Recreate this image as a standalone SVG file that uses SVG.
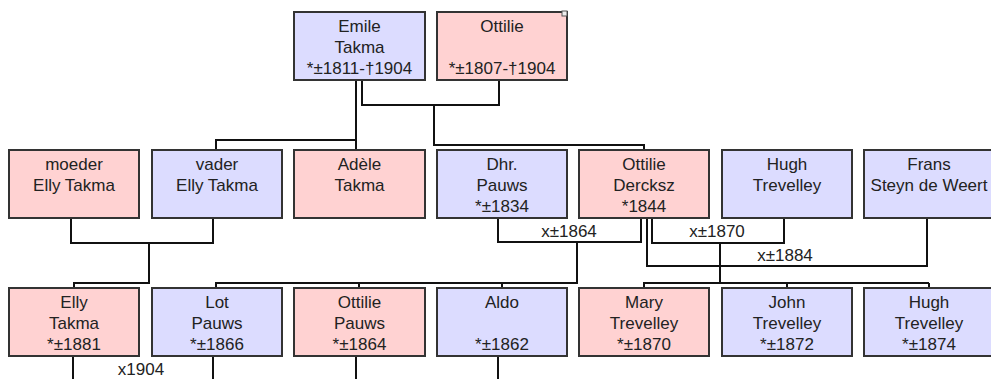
<svg xmlns="http://www.w3.org/2000/svg" width="991" height="379" viewBox="0 0 991 379">
<style>
.m{fill:#DCDCFF;stroke:#333;stroke-width:2}
.f{fill:#FFD2D2;stroke:#333;stroke-width:2}
text{font-family:"Liberation Sans",Arial,sans-serif;font-size:17px;fill:#222;text-anchor:middle}
.c path{fill:none;stroke:#111;stroke-width:2}
</style>
<rect width="991" height="379" fill="#fff"/>
<g class="c" id="connectors">
<path d="M356 80V140M216 150V140H356V150"/>
<path d="M362 80V105H499V80M434 105V145H644V150"/>
<path d="M71 218V243H213V218M149 243V283H74V288"/>
<path d="M498 218V242H641V218M577 242V283H216V288M359 283V288M502 283V288"/>
<path d="M652 218V243H784V218M720 243V283H644V288M929 283V288M787 283V288M644 283H929"/>
<path d="M647 218V266H927V218"/>
<path d="M73 356V379M213 356V379M356 356V379M498 356V379"/>
</g>
<g id="labels">
<text x="569" y="237">x±1864</text>
<text x="717" y="237">x±1870</text>
<text x="785" y="261">x±1884</text>
<text x="141" y="375">x1904</text>
</g>
<g id="emile"><rect class="m" x="294" y="12" width="131" height="68"/><text x="359.5" y="32">Emile</text><text x="359.5" y="53">Takma</text><text x="359.5" y="74">*±1811-†1904</text></g>
<g id="ottilie"><rect class="f" x="437" y="12" width="130" height="68"/><text x="502" y="32">Ottilie</text><text x="502" y="74">*±1807-†1904</text><rect x="562" y="11" width="5" height="5" fill="#eee" stroke="#555" stroke-width="1"/></g>
<g id="moeder"><rect class="f" x="9" y="150" width="130" height="68"/><text x="74" y="170">moeder</text><text x="74" y="191">Elly Takma</text></g>
<g id="vader"><rect class="m" x="152" y="150" width="130" height="68"/><text x="217" y="170">vader</text><text x="217" y="191">Elly Takma</text></g>
<g id="adele"><rect class="f" x="294" y="150" width="131" height="68"/><text x="359.5" y="170">Adèle</text><text x="359.5" y="191">Takma</text></g>
<g id="dhr"><rect class="m" x="437" y="150" width="130" height="68"/><text x="502" y="170">Dhr.</text><text x="502" y="191">Pauws</text><text x="502" y="212">*±1834</text></g>
<g id="ottilie-dercksz"><rect class="f" x="579" y="150" width="130" height="68"/><text x="644" y="170">Ottilie</text><text x="644" y="191">Dercksz</text><text x="644" y="212">*1844</text></g>
<g id="hugh"><rect class="m" x="722" y="150" width="130" height="68"/><text x="787" y="170">Hugh</text><text x="787" y="191">Trevelley</text></g>
<g id="frans"><rect class="m" x="864" y="150" width="131" height="68"/><text x="929" y="170">Frans</text><text x="929" y="191">Steyn de Weert</text></g>
<g id="elly"><rect class="f" x="9" y="288" width="130" height="68"/><text x="74" y="308">Elly</text><text x="74" y="329">Takma</text><text x="74" y="350">*±1881</text></g>
<g id="lot"><rect class="m" x="152" y="288" width="130" height="68"/><text x="217" y="308">Lot</text><text x="217" y="329">Pauws</text><text x="217" y="350">*±1866</text></g>
<g id="ottilie-pauws"><rect class="f" x="294" y="288" width="131" height="68"/><text x="359.5" y="308">Ottilie</text><text x="359.5" y="329">Pauws</text><text x="359.5" y="350">*±1864</text></g>
<g id="aldo"><rect class="m" x="437" y="288" width="130" height="68"/><text x="502" y="308">Aldo</text><text x="502" y="350">*±1862</text></g>
<g id="mary"><rect class="f" x="579" y="288" width="130" height="68"/><text x="644" y="308">Mary</text><text x="644" y="329">Trevelley</text><text x="644" y="350">*±1870</text></g>
<g id="john"><rect class="m" x="722" y="288" width="130" height="68"/><text x="787" y="308">John</text><text x="787" y="329">Trevelley</text><text x="787" y="350">*±1872</text></g>
<g id="hugh2"><rect class="m" x="864" y="288" width="130" height="68"/><text x="929" y="308">Hugh</text><text x="929" y="329">Trevelley</text><text x="929" y="350">*±1874</text></g>
</svg>
